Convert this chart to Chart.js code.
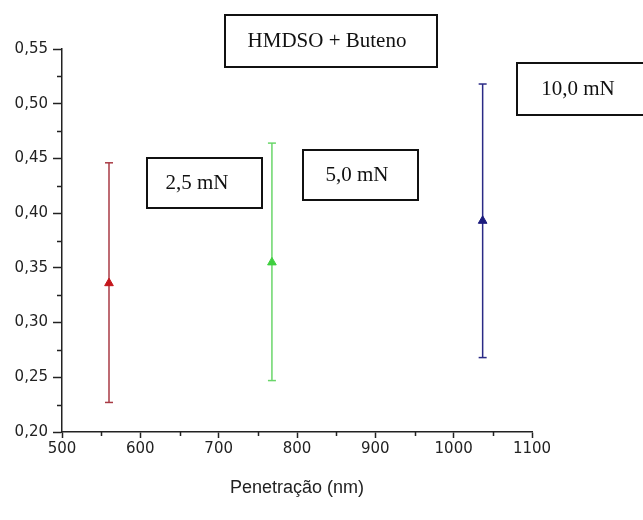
<!DOCTYPE html>
<html>
<head>
<meta charset="utf-8">
<script src="https://cdn.jsdelivr.net/npm/chart.js@4/dist/chart.umd.min.js"></script>
<style>
  html, body { margin: 0; padding: 0; background: #ffffff; }
  #wrap { width: 643px; height: 520px; }
</style>
</head>
<body>
<div id="wrap"><canvas id="c" width="643" height="520"></canvas></div>
<script>
// Hardness measurements at three indentation loads
const loads = ['2,5 mN', '5,0 mN', '10,0 mN'];
const penetration = [560, 768, 1037];          // nm
const meanValues = [0.336, 0.355, 0.393];
const lowerValues = [0.227, 0.247, 0.268];
const upperValues = [0.446, 0.464, 0.518];
const seriesColors = ['#c4161c', '#3fcf3f', '#1b1b7d'];
const barColors = ['#a83a44', '#6ad66a', '#2a2a86'];

// Axis ticks
const xTickValues = [500, 600, 700, 800, 900, 1000, 1100];
const xTickLabels = ['500', '600', '700', '800', '900', '1000', '1100'];
const xMinorValues = [550, 650, 750, 850, 950, 1050];
const yTickValues = [0.20, 0.25, 0.30, 0.35, 0.40, 0.45, 0.50, 0.55];
const yTickLabels = ['0,20', '0,25', '0,30', '0,35', '0,40', '0,45', '0,50', '0,55'];
const yMinorValues = [0.225, 0.275, 0.325, 0.375, 0.425, 0.475, 0.525];

const plotTitle = 'HMDSO + Buteno';
const xTitle = 'Penetração (nm)';

const tickFont = { family: '"DejaVu Sans", Verdana, sans-serif', size: 15 };

// Error bars: vertical line between lower and upper value, with caps
const errorSets = penetration.map((x, i) => ({
  type: 'line',
  data: [{ x: x, y: lowerValues[i] }, { x: x, y: upperValues[i] }],
  borderColor: barColors[i],
  borderWidth: 1.5,
  pointStyle: 'line',
  pointRadius: 4,
  pointBorderWidth: 1.5,
  pointBorderColor: barColors[i],
  showLine: true,
  order: 2
}));

// Mean values as triangles
const meanSets = penetration.map((x, i) => ({
  type: 'scatter',
  data: [{ x: x, y: meanValues[i] }],
  pointStyle: 'triangle',
  pointRadius: 5,
  backgroundColor: seriesColors[i],
  borderColor: seriesColors[i],
  borderWidth: 1,
  order: 1
}));

// Short minor ticks between labelled ticks
const minorTicks = {
  id: 'minorTicks',
  afterDraw(chart) {
    const ctx = chart.ctx;
    const xs = chart.scales.x, ys = chart.scales.y;
    ctx.save();
    ctx.strokeStyle = '#222';
    ctx.lineWidth = 1.5;
    ctx.beginPath();
    xMinorValues.forEach(v => {
      const px = Math.round(xs.getPixelForValue(v)) + 0.5;
      ctx.moveTo(px, xs.top);
      ctx.lineTo(px, xs.top + 4);
    });
    yMinorValues.forEach(v => {
      const py = Math.round(ys.getPixelForValue(v)) + 0.5;
      ctx.moveTo(ys.right, py);
      ctx.lineTo(ys.right - 5, py);
    });
    ctx.stroke();
    ctx.restore();
  }
};

// Framed text labels
const boxes = [
  { text: plotTitle, x: 225, y: 15, w: 212, h: 52, tx: 327 },
  { text: loads[0], x: 147, y: 158, w: 115, h: 50, tx: 197 },
  { text: loads[1], x: 303, y: 150, w: 115, h: 50, tx: 357 },
  { text: loads[2], x: 517, y: 63, w: 140, h: 52, tx: 578 }
];
const textBoxes = {
  id: 'textBoxes',
  afterDraw(chart) {
    const ctx = chart.ctx;
    ctx.save();
    boxes.forEach(b => {
      ctx.fillStyle = '#ffffff';
      ctx.fillRect(b.x, b.y, b.w, b.h);
      ctx.strokeStyle = '#111';
      ctx.lineWidth = 2;
      ctx.strokeRect(b.x, b.y, b.w, b.h);
      ctx.fillStyle = '#111';
      ctx.font = '21px "Liberation Serif", "Times New Roman", serif';
      ctx.textAlign = 'center';
      ctx.textBaseline = 'middle';
      ctx.fillText(b.text, b.tx, b.y + b.h / 2);
    });
    ctx.restore();
  }
};

new Chart(document.getElementById('c'), {
  data: { datasets: [...errorSets, ...meanSets] },
  options: {
    responsive: false,
    animation: false,
    devicePixelRatio: 1,
    layout: { padding: { top: 49, right: 111, bottom: 0, left: 0 } },
    plugins: { legend: { display: false }, tooltip: { enabled: false } },
    scales: {
      x: {
        type: 'linear',
        min: 500, max: 1100,
        afterFit: s => { s.height = 88; },
        afterBuildTicks: s => { s.ticks = xTickValues.map(v => ({ value: v })); },
        border: { display: true, color: '#222', width: 1.5 },
        grid: { drawOnChartArea: false, drawTicks: true, tickLength: 6, tickColor: '#222', tickWidth: 1.5 },
        ticks: {
          autoSkip: false, maxRotation: 0, padding: 2, color: '#222',
          font: tickFont,
          callback: (v, i) => xTickLabels[i]
        },
        title: {
          display: true, text: xTitle, color: '#222',
          font: { family: '"Liberation Sans", Arial, sans-serif', size: 18 },
          padding: { top: 0, bottom: 21 }
        }
      },
      y: {
        type: 'linear',
        min: 0.20, max: 0.55,
        afterFit: s => { s.width = 62; },
        afterBuildTicks: s => { s.ticks = yTickValues.map(v => ({ value: v })); },
        border: { display: true, color: '#222', width: 1.5 },
        grid: { drawOnChartArea: false, drawTicks: true, tickLength: 9, tickColor: '#222', tickWidth: 1.5 },
        ticks: {
          autoSkip: false, padding: 5, color: '#222',
          font: tickFont,
          callback: (v, i) => yTickLabels[i]
        }
      }
    }
  },
  plugins: [minorTicks, textBoxes]
});
</script>
</body>
</html>
